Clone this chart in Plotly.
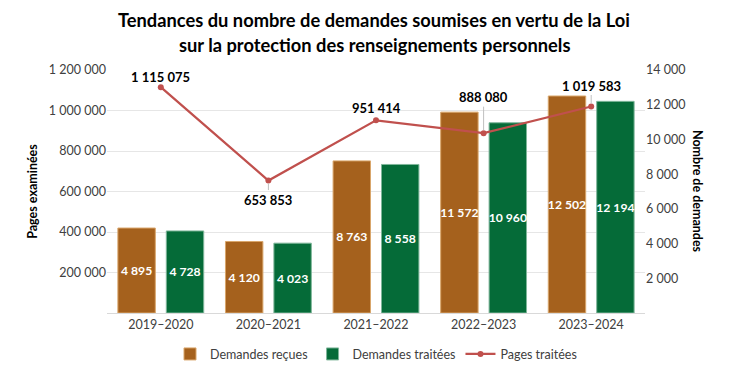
import plotly.graph_objects as go

categories = ["2019–2020", "2020–2021", "2021–2022", "2022–2023", "2023–2024"]
demandes_recues = [4895, 4120, 8763, 11572, 12502]
demandes_traitees = [4728, 4023, 8558, 10960, 12194]
pages_traitees = [1115075, 653853, 951414, 888080, 1019583]

left_ticks = [200000, 400000, 600000, 800000, 1000000, 1200000]
right_ticks = [2000, 4000, 6000, 8000, 10000, 12000, 14000]

title_lines = ["Tendances du nombre de demandes soumises en vertu de la Loi",
               "sur la protection des renseignements personnels"]

def fmt(v):
    return f"{v:,}".replace(",", " ")

BROWN = "#A5611D"
GREEN = "#056B38"
RED = "#C0504D"
FONT = "Lato"

fig = go.Figure()
fig.add_trace(go.Bar(
    x=categories, y=demandes_recues, name="Demandes reçues",
    marker=dict(color=BROWN, line=dict(color="#D9A66B", width=1)),
    text=[fmt(v) for v in demandes_recues], textposition="inside",
    insidetextanchor="middle", textangle=0,
    textfont=dict(color="white", size=12.2, family=FONT, weight="bold"),
    yaxis="y",
))
fig.add_trace(go.Bar(
    x=categories, y=demandes_traitees, name="Demandes traitées",
    marker=dict(color=GREEN, line=dict(color="#7FB69A", width=1)),
    text=[fmt(v) for v in demandes_traitees], textposition="inside",
    insidetextanchor="middle", textangle=0,
    textfont=dict(color="white", size=12.2, family=FONT, weight="bold"),
    yaxis="y",
))
fig.add_trace(go.Scatter(
    x=categories, y=pages_traitees, name="Pages traitées",
    mode="lines+markers", line=dict(color=RED, width=2.25),
    marker=dict(color=RED, size=6), yaxis="y2",
))

# line data labels
label_specs = [
    dict(shift=10, arrow=None),
    dict(shift=None, arrow=19),
    dict(shift=12, arrow=None),
    dict(shift=None, arrow=-36),
    dict(shift=None, arrow=-21),
]
for c, v, s in zip(categories, pages_traitees, label_specs):
    common = dict(x=c, y=v, xref="x", yref="y2", text=fmt(v),
                  font=dict(size=13, color="#000000", family=FONT, weight="bold"))
    if s["arrow"] is None:
        fig.add_annotation(**common, showarrow=False, yshift=s["shift"])
    else:
        fig.add_annotation(**common, showarrow=True, arrowhead=0, arrowwidth=1,
                           arrowcolor="#BFBFBF", ax=0, ay=s["arrow"], standoff=3)

# title as two lines
for i, line in enumerate(title_lines):
    fig.add_annotation(text=line, xref="paper", yref="paper", x=0.5, xshift=-2,
                       y=1.0, yanchor="middle", yshift=50 - 25 * i, showarrow=False,
                       font=dict(size=18.3, color="#000000", family=FONT, weight="bold"))

fig.add_annotation(text="Nombre de demandes", xref="paper", yref="paper",
                   x=1.0, xshift=62, y=0.5, textangle=90, showarrow=False,
                   font=dict(size=12.5, color="#000000", family=FONT, weight="bold"))

fig.update_layout(
    width=747, height=381,
    margin=dict(l=107, r=102, t=70, b=65),
    paper_bgcolor="white", plot_bgcolor="white",
    separators=", ",
    font=dict(family=FONT, size=12, color="#595959"),
    barmode="group", bargap=0.1, bargroupgap=0.227,
    uniformtext=dict(minsize=12, mode="show"),
    showlegend=True,
    legend=dict(orientation="h", x=0.5, xanchor="center", y=-0.17, yanchor="middle",
                font=dict(size=12.5, color="#404040", family=FONT),
                traceorder="normal", itemwidth=30),
    xaxis=dict(showgrid=False, showline=True, linecolor="#D9D9D9", linewidth=1,
               ticks="", tickfont=dict(size=12.5, color="#404040")),
    yaxis=dict(side="right", range=[0, 14000], tickvals=right_ticks,
               ticktext=[fmt(v) for v in right_ticks], showgrid=False,
               zeroline=False, showline=False, ticks="",
               tickfont=dict(size=12.5, color="#404040")),
    yaxis2=dict(side="left", overlaying="y", range=[0, 1200000],
                tickvals=left_ticks, ticktext=[fmt(v) for v in left_ticks],
                showgrid=True, gridcolor="#E6E6E6", gridwidth=1,
                zeroline=False, showline=False, ticks="",
                tickfont=dict(size=12.5, color="#404040"),
                title=dict(text="Pages examinées", standoff=8,
                           font=dict(size=12.5, color="#000000", family=FONT, weight="bold"))),
)

fig.write_html("out.html", config={"displayModeBar": False},
               post_script="document.body.style.margin='0';")
